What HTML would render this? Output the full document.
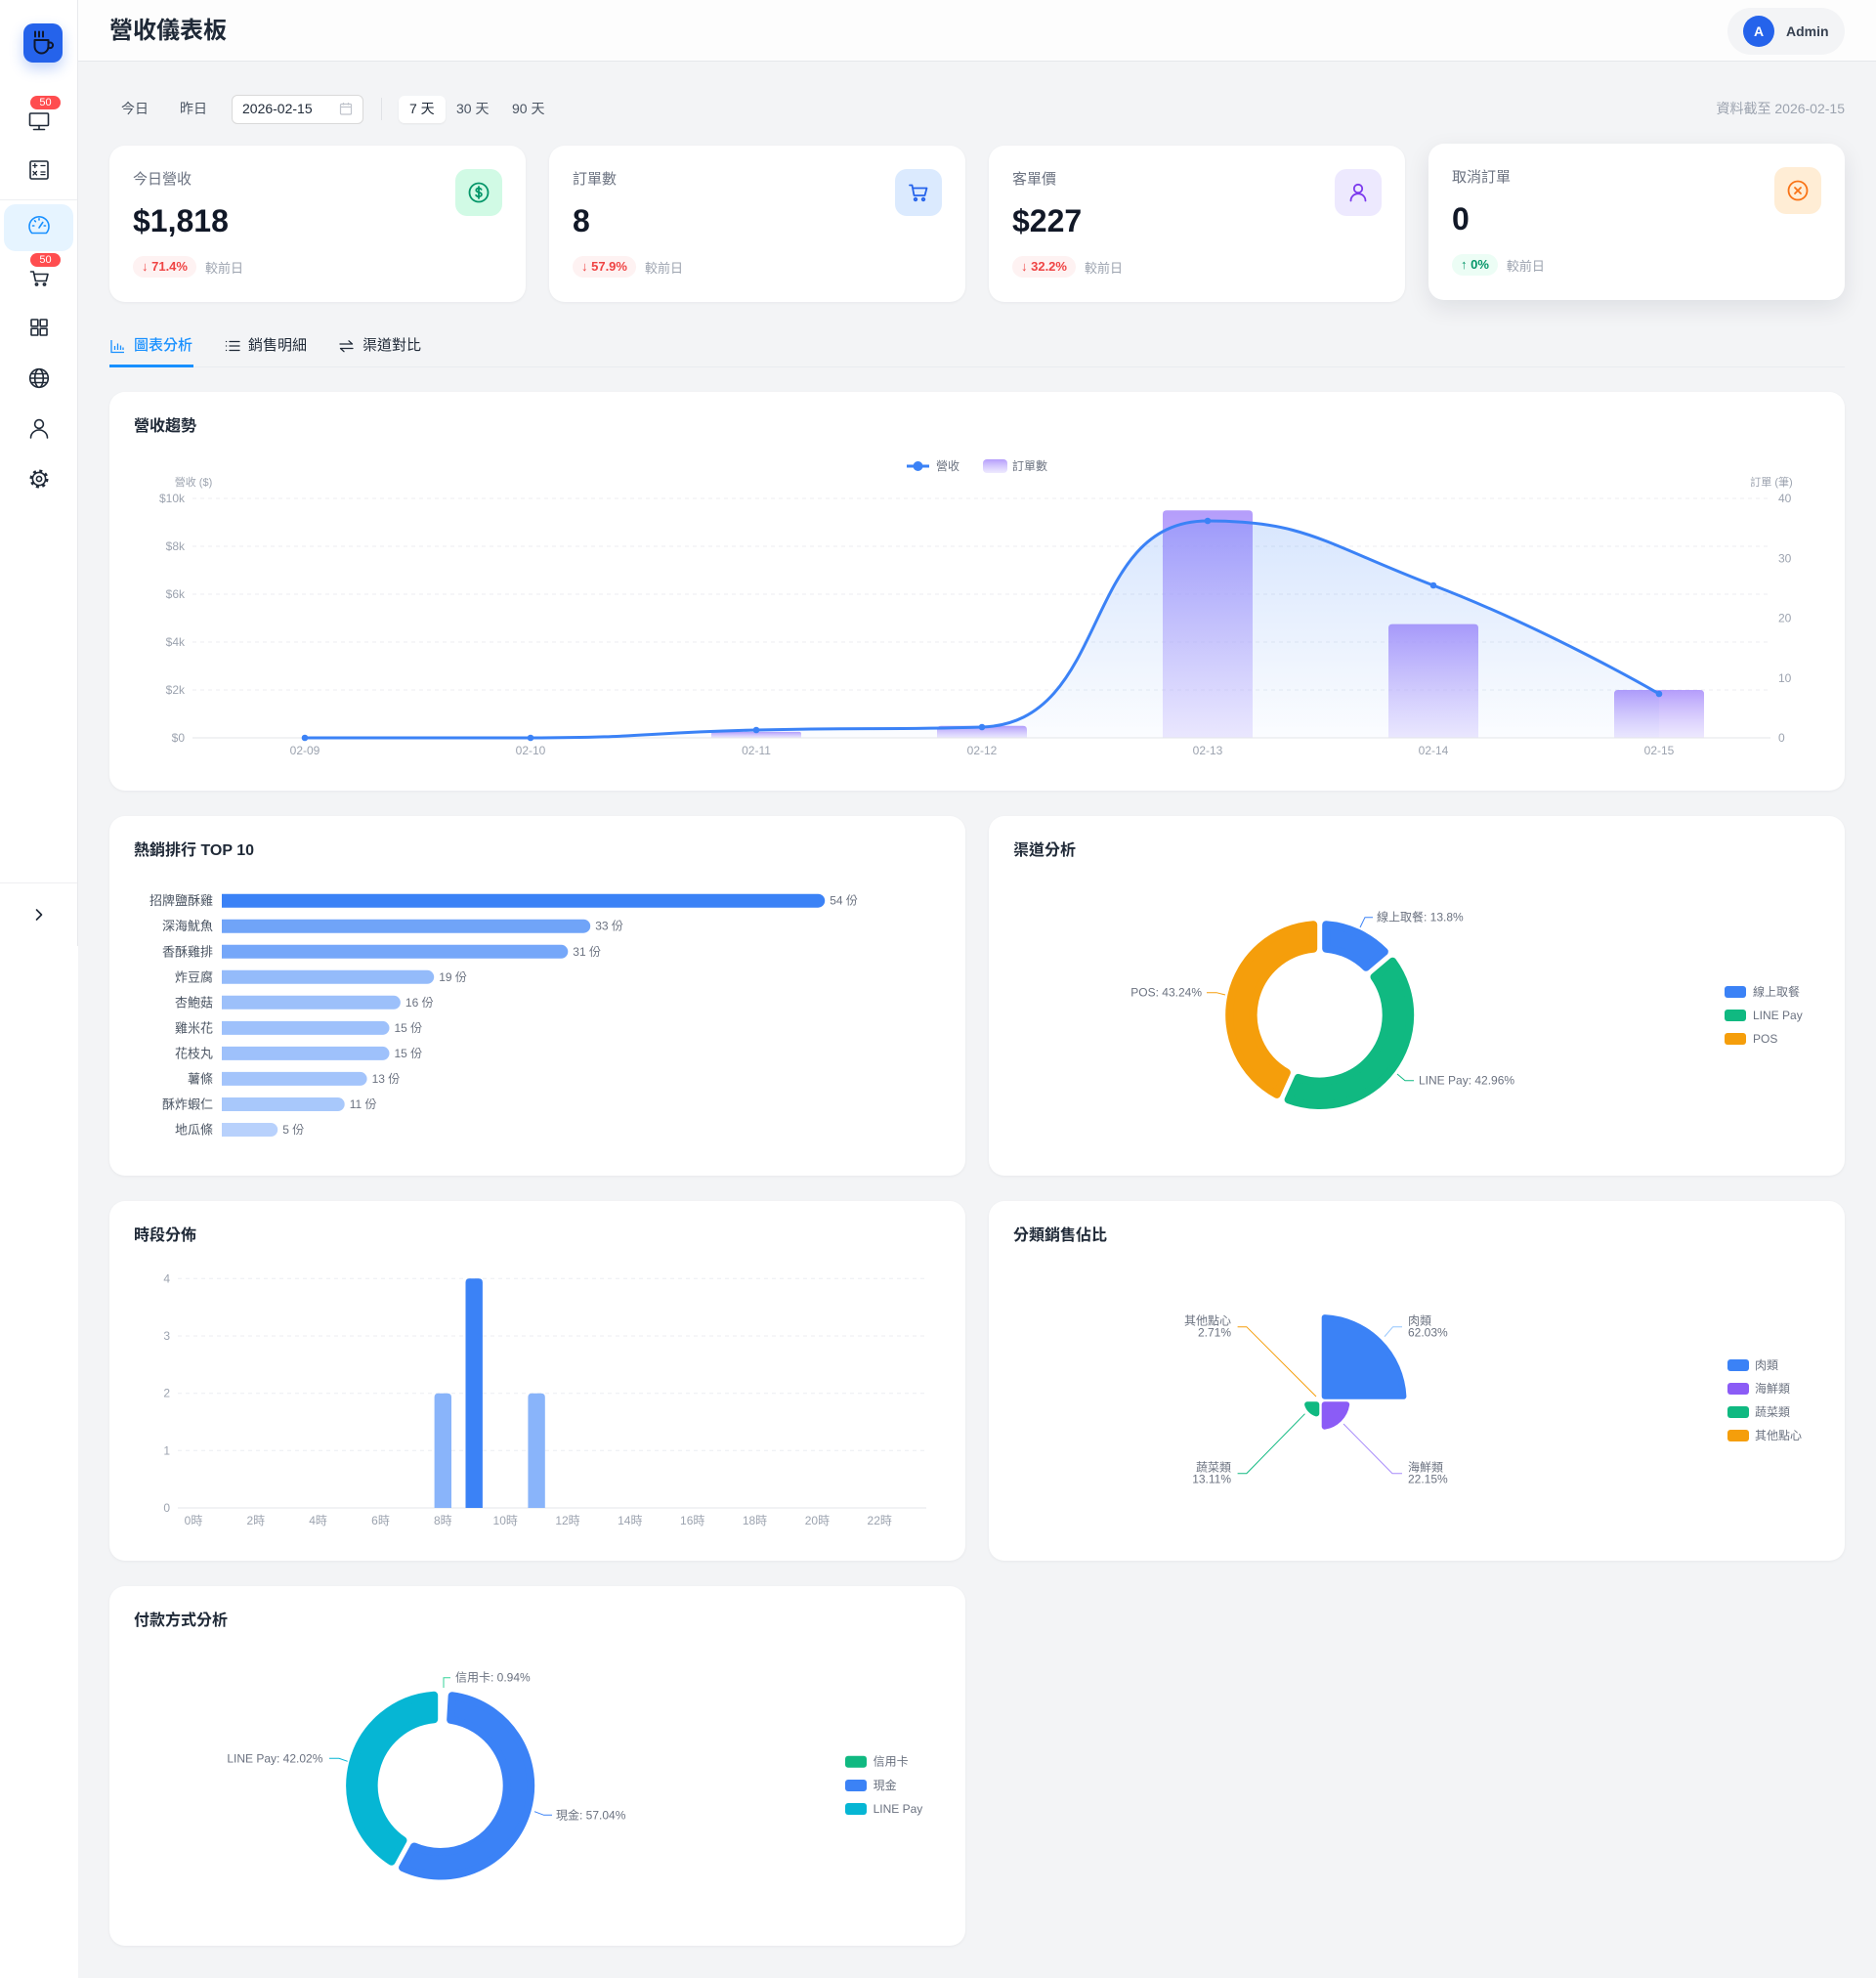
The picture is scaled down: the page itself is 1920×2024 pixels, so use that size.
<!DOCTYPE html>
<html><head><meta charset="utf-8">
<style>
*{box-sizing:border-box;margin:0;padding:0}
html,body{width:1920px;height:2024px;overflow:hidden}
body{position:relative;background:#f3f4f6;font-family:"Liberation Sans","Noto Sans CJK TC",sans-serif;color:#1f2937}
.a{position:absolute}
.t{position:absolute;white-space:nowrap}
.card{position:absolute;background:#fff;border-radius:16px;box-shadow:0 1px 3px rgba(16,24,40,.05)}
.lbl{position:absolute;left:24px;top:25px;font-size:15px;line-height:20px;color:#6b7280;white-space:nowrap}
.val{position:absolute;left:24px;top:57px;font-size:32px;line-height:40px;font-weight:700;color:#111827;white-space:nowrap}
.cmp{position:absolute;left:24px;top:113px;display:flex;align-items:center;white-space:nowrap}
.bdg{height:22px;line-height:22px;padding:0 9px;border-radius:11px;font-size:13px;font-weight:700}
.red{background:#fef2f2;color:#ef4444}
.grn{background:#ecfdf5;color:#059669}
.cmp span.s{margin-left:9px;font-size:13px;color:#9ca3af}
.ib{position:absolute;right:24px;top:24px;width:48px;height:48px;border-radius:12px;display:flex;align-items:center;justify-content:center}
.ctitle{position:absolute;left:25px;top:26px;font-size:16px;line-height:20px;font-weight:700;color:#1f2937;white-space:nowrap}
.flt{position:absolute;top:101px;font-size:14px;line-height:20px;color:#4b5563;white-space:nowrap}
.badge{position:absolute;left:31px;width:31px;height:14px;border-radius:7px;background:#ff4d4f;color:#fff;font-size:11px;line-height:14px;text-align:center}
svg text{font-family:"Liberation Sans","Noto Sans CJK TC",sans-serif}
</style></head>
<body>

<!-- Sidebar -->
<div class="a" style="left:0;top:0;width:80px;height:2024px;background:#fff"></div>
<div class="a" style="left:79px;top:0;width:1px;height:968px;background:#e8e9ec"></div>
<div class="a" style="left:0;top:204px;width:79px;height:1px;background:#eeeff1"></div>
<div class="a" style="left:0;top:903px;width:79px;height:1px;background:#eeeff1"></div>
<div class="a" style="left:4px;top:209px;width:71px;height:48px;border-radius:12px;background:#e6f4ff"></div>
<div class="a" style="left:24px;top:24px;width:40px;height:40px;border-radius:10px;background:#2563eb;box-shadow:0 6px 14px rgba(37,99,235,.28)"></div>

<svg class="a" style="left:0;top:0" width="80" height="968" fill="none" stroke="#1f2937" stroke-width="1.6" stroke-linecap="round" stroke-linejoin="round">
  <!-- logo cup -->
  <g stroke="#0f172a" stroke-width="2">
    <line x1="36" y1="32.5" x2="36" y2="37.5"/><line x1="40" y1="32.5" x2="40" y2="37.5"/><line x1="44" y1="32.5" x2="44" y2="37.5"/>
    <path d="M35.5 41h14v6.5a7 7 0 0 1-14 0z"/>
    <path d="M49.5 43.5h1.8a2.8 2.8 0 0 1 0 5.6h-2"/>
  </g>
  <!-- monitor -->
  <rect x="30.5" y="116" width="19" height="12.5" rx="1"/>
  <line x1="40" y1="128.5" x2="40" y2="132"/><line x1="34.5" y1="132.5" x2="45.5" y2="132.5"/>
  <!-- calculator -->
  <rect x="31" y="165" width="18" height="18" rx="1.5"/>
  <g stroke-width="1.3">
  <line x1="33.8" y1="169.5" x2="37.8" y2="169.5"/><line x1="35.8" y1="167.5" x2="35.8" y2="171.5"/>
  <line x1="42" y1="169.5" x2="46" y2="169.5"/>
  <line x1="34" y1="175.5" x2="37.5" y2="179"/><line x1="37.5" y1="175.5" x2="34" y2="179"/>
  <line x1="42" y1="176" x2="46" y2="176"/><line x1="42" y1="178.6" x2="46" y2="178.6"/>
  </g>
  <!-- gauge -->
  <g stroke="#1890ff">
    <path d="M32.6 238.5A10 10 0 1 1 47.4 238.5Z"/>
    <line x1="40" y1="233" x2="43.8" y2="227.5"/>
    <line x1="33.5" y1="231" x2="34.8" y2="231"/><line x1="35.5" y1="225.8" x2="36.4" y2="226.7"/><line x1="40" y1="223.8" x2="40" y2="225"/><line x1="45.2" y1="231" x2="46.5" y2="231"/>
  </g>
  <!-- cart -->
  <path d="M31.5 278h2.8l2.1 9.5h10.8l1.8-7H35"/>
  <circle cx="37.5" cy="291" r="1.1"/><circle cx="45.5" cy="291" r="1.1"/>
  <!-- grid -->
  <rect x="32" y="327" width="6.8" height="6.8" rx=".6"/><rect x="41.2" y="327" width="6.8" height="6.8" rx=".6"/>
  <rect x="32" y="336.2" width="6.8" height="6.8" rx=".6"/><rect x="41.2" y="336.2" width="6.8" height="6.8" rx=".6"/>
  <!-- globe -->
  <circle cx="40" cy="387" r="9.3"/><ellipse cx="40" cy="387" rx="4.3" ry="9.3"/>
  <line x1="30.7" y1="387" x2="49.3" y2="387"/><path d="M32 382.5h16M32 391.5h16"/>
  <!-- user -->
  <circle cx="40" cy="434" r="4.4"/><path d="M31.5 448a8.5 8 0 0 1 17 0"/>
  <!-- settings -->
  <circle cx="40" cy="490" r="8.2" stroke-width="2.6" stroke-dasharray="3 3.44" stroke-linecap="butt"/>
  <circle cx="40" cy="490" r="6.6"/><circle cx="40" cy="490" r="2.6"/>
  <!-- chevron -->
  <polyline points="37.5,931 42.5,936 37.5,941"/>
</svg>
<div class="badge" style="top:98px">50</div>
<div class="badge" style="top:259px">50</div>

<!-- Header -->
<div class="a" style="left:80px;top:0;width:1840px;height:63px;background:#fdfdfd;border-bottom:1px solid #e5e7eb"></div>
<div class="t" style="left:112px;top:16px;font-size:24px;line-height:32px;font-weight:700;color:#1f2937">營收儀表板</div>
<div class="a" style="left:1768px;top:8px;width:120px;height:48px;border-radius:24px;background:#f3f4f6"></div>
<div class="a" style="left:1784px;top:16px;width:32px;height:32px;border-radius:16px;background:#2563eb;color:#fff;font-size:14px;font-weight:700;line-height:32px;text-align:center">A</div>
<div class="t" style="left:1828px;top:22px;font-size:14px;line-height:20px;font-weight:700;color:#374151">Admin</div>

<!-- Filter row -->
<div class="flt" style="left:124px">今日</div>
<div class="flt" style="left:184px">昨日</div>
<div class="a" style="left:237px;top:97px;width:135px;height:30px;border:1px solid #d9d9d9;border-radius:6px;background:#fff"></div>
<div class="t" style="left:248px;top:101px;font-size:14px;line-height:20px;color:#1f2937">2026-02-15</div>
<svg class="a" style="left:347px;top:104px" width="14" height="15" fill="none" stroke="#c0c4cc" stroke-width="1.2"><rect x="1.5" y="2.5" width="11" height="10.5" rx="1"/><line x1="1.5" y1="5.5" x2="12.5" y2="5.5"/><line x1="4.5" y1="1" x2="4.5" y2="3.5"/><line x1="9.5" y1="1" x2="9.5" y2="3.5"/></svg>
<div class="a" style="left:390px;top:100px;width:1px;height:23px;background:#e0e2e6"></div>
<div class="a" style="left:408px;top:98px;width:48px;height:28px;border-radius:6px;background:#fff;box-shadow:0 1px 2px rgba(0,0,0,.06)"></div>
<div class="flt" style="left:419px;color:#1f2937">7 天</div>
<div class="flt" style="left:467px">30 天</div>
<div class="flt" style="left:524px">90 天</div>
<div class="flt" style="right:32px;color:#9ca3af">資料截至 2026-02-15</div>

<!-- Stat cards -->
<div class="card" style="left:112px;top:149px;width:426px;height:160px">
  <div class="lbl">今日營收</div><div class="val">$1,818</div>
  <div class="cmp"><span class="bdg red">↓ 71.4%</span><span class="s">較前日</span></div>
  <div class="ib" style="background:#d1fae5"><svg width="24" height="24" fill="none" stroke="#059669" stroke-width="1.8" stroke-linecap="round"><circle cx="12" cy="12" r="9.5"/><path d="M14.6 8.9c-.5-.8-1.5-1.3-2.6-1.3-1.5 0-2.7.8-2.7 2s1.1 1.7 2.7 2.1c1.7.4 2.9 1 2.9 2.3s-1.3 2.1-2.9 2.1c-1.2 0-2.3-.5-2.9-1.4M12 6v12"/></svg></div>
</div>
<div class="card" style="left:562px;top:149px;width:426px;height:160px">
  <div class="lbl">訂單數</div><div class="val">8</div>
  <div class="cmp"><span class="bdg red">↓ 57.9%</span><span class="s">較前日</span></div>
  <div class="ib" style="background:#dbeafe"><svg width="24" height="24" fill="none" stroke="#2563eb" stroke-width="1.8" stroke-linecap="round" stroke-linejoin="round"><path d="M3 4.5h2.5l2 10.5h11l2-7.5H6.6"/><circle cx="9" cy="19" r="1.3"/><circle cx="17" cy="19" r="1.3"/></svg></div>
</div>
<div class="card" style="left:1012px;top:149px;width:426px;height:160px">
  <div class="lbl">客單價</div><div class="val">$227</div>
  <div class="cmp"><span class="bdg red">↓ 32.2%</span><span class="s">較前日</span></div>
  <div class="ib" style="background:#ede9fe"><svg width="24" height="24" fill="none" stroke="#7c3aed" stroke-width="1.8" stroke-linecap="round"><circle cx="12" cy="8" r="4.2"/><path d="M4.5 20.5c0-4.2 3.4-7.3 7.5-7.3s7.5 3.1 7.5 7.3"/></svg></div>
</div>
<div class="card" style="left:1462px;top:147px;width:426px;height:160px;box-shadow:0 8px 24px rgba(16,24,40,.09)">
  <div class="lbl">取消訂單</div><div class="val">0</div>
  <div class="cmp"><span class="bdg grn">↑ 0%</span><span class="s">較前日</span></div>
  <div class="ib" style="background:#ffedd5"><svg width="24" height="24" fill="none" stroke="#f97316" stroke-width="1.8" stroke-linecap="round"><circle cx="12" cy="12" r="9.5"/><path d="M9 9l6 6M15 9l-6 6"/></svg></div>
</div>

<!-- Tabs -->
<div class="a" style="left:112px;top:375px;width:1776px;height:1px;background:#e9ebef"></div>
<div class="a" style="left:112px;top:373px;width:86px;height:3px;background:#1890ff"></div>
<svg class="a" style="left:113px;top:347px" width="15" height="15" fill="none" stroke="#1890ff" stroke-width="1.3"><path d="M1 1v12.5h13"/><path d="M4.5 11V7M7.5 11V4.5M10.5 11V6.5M13 11V8.5"/></svg>
<div class="t" style="left:137px;top:344px;font-size:15px;line-height:20px;color:#1890ff;font-weight:500">圖表分析</div>
<svg class="a" style="left:230px;top:347px" width="16" height="14" fill="none" stroke="#1f2937" stroke-width="1.3" stroke-linecap="round"><path d="M1.5 2.5h.1M1.5 7h.1M1.5 11.5h.1M5 2.5h10M5 7h10M5 11.5h10"/></svg>
<div class="t" style="left:254px;top:344px;font-size:15px;line-height:20px;color:#1f2937">銷售明細</div>
<svg class="a" style="left:347px;top:347px" width="15" height="14" fill="none" stroke="#1f2937" stroke-width="1.3" stroke-linecap="round" stroke-linejoin="round"><path d="M1 5h12.5L10 1.8M14 9.5H1.5L5 12.7"/></svg>
<div class="t" style="left:371px;top:344px;font-size:15px;line-height:20px;color:#1f2937">渠道對比</div>

<!-- Chart cards -->
<div class="card" style="left:112px;top:401px;width:1776px;height:408px"><div class="ctitle">營收趨勢</div></div>
<div class="card" style="left:112px;top:835px;width:876px;height:368px"><div class="ctitle">熱銷排行 TOP 10</div></div>
<div class="card" style="left:1012px;top:835px;width:876px;height:368px"><div class="ctitle">渠道分析</div></div>
<div class="card" style="left:112px;top:1229px;width:876px;height:368px"><div class="ctitle">時段分佈</div></div>
<div class="card" style="left:1012px;top:1229px;width:876px;height:368px"><div class="ctitle">分類銷售佔比</div></div>
<div class="card" style="left:112px;top:1623px;width:876px;height:368px"><div class="ctitle">付款方式分析</div></div>

<svg class="a" style="left:0;top:0" width="1920" height="2024">
<defs>
  <linearGradient id="barg" x1="0" y1="0" x2="0" y2="1">
    <stop offset="0" stop-color="#a78bfa" stop-opacity="0.85"/>
    <stop offset="1" stop-color="#c4b5fd" stop-opacity="0.3"/>
  </linearGradient>
  <linearGradient id="areag" gradientUnits="userSpaceOnUse" x1="0" y1="533" x2="0" y2="755">
    <stop offset="0" stop-color="#3b82f6" stop-opacity="0.2"/>
    <stop offset="1" stop-color="#3b82f6" stop-opacity="0.02"/>
  </linearGradient>
</defs>

<!-- ===== Trend chart ===== -->
<g stroke="#eceef2" stroke-dasharray="4 4" stroke-width="1">
  <line x1="197" y1="510" x2="1812" y2="510"/><line x1="197" y1="559" x2="1812" y2="559"/>
  <line x1="197" y1="608" x2="1812" y2="608"/><line x1="197" y1="657" x2="1812" y2="657"/>
  <line x1="197" y1="706" x2="1812" y2="706"/>
</g>
<g font-size="12" fill="#9ca3af" dominant-baseline="central">
  <text x="189" y="510" text-anchor="end">$10k</text><text x="189" y="559" text-anchor="end">$8k</text>
  <text x="189" y="608" text-anchor="end">$6k</text><text x="189" y="657" text-anchor="end">$4k</text>
  <text x="189" y="706" text-anchor="end">$2k</text><text x="189" y="755" text-anchor="end">$0</text>
  <text x="1820" y="510">40</text><text x="1820" y="571.3">30</text><text x="1820" y="632.5">20</text>
  <text x="1820" y="693.8">10</text><text x="1820" y="755">0</text>
  <text x="198" y="494" text-anchor="middle" font-size="11">營收 ($)</text>
  <text x="1813" y="494" text-anchor="middle" font-size="11">訂單 (筆)</text>
  <text x="312" y="768" text-anchor="middle">02-09</text><text x="543" y="768" text-anchor="middle">02-10</text>
  <text x="774" y="768" text-anchor="middle">02-11</text><text x="1005" y="768" text-anchor="middle">02-12</text>
  <text x="1236" y="768" text-anchor="middle">02-13</text><text x="1467" y="768" text-anchor="middle">02-14</text>
  <text x="1698" y="768" text-anchor="middle">02-15</text>
</g>
<g fill="url(#barg)">
  <path d="M728 755V751q0-2.1 2.1-2.1h87.8q2.1 0 2.1 2.1V755z"/>
  <path d="M959 755V746.75q0-4 4-4h84q4 0 4 4V755z"/>
  <path d="M1190 755V526.25q0-4 4-4h84q4 0 4 4V755z"/>
  <path d="M1421 755V642.6q0-4 4-4h84q4 0 4 4V755z"/>
  <path d="M1652 755V710q0-4 4-4h84q4 0 4 4V755z"/>
</g>
<path d="M312 755C312 755 427.5 755 543 755C658.5 755 658.5 749.75 774 747C889.5 744.25 906.9 747 1005 744C1137.9 739.9 1105.3 533 1236 533C1336.3 533 1355.2 556.2 1467 599C1586.2 644.7 1698 710 1698 710L1698 755Z" fill="url(#areag)"/>
<line x1="197" y1="755" x2="1812" y2="755" stroke="#e3e5e9" stroke-width="1"/>
<path d="M312 755C312 755 427.5 755 543 755C658.5 755 658.5 749.75 774 747C889.5 744.25 906.9 747 1005 744C1137.9 739.9 1105.3 533 1236 533C1336.3 533 1355.2 556.2 1467 599C1586.2 644.7 1698 710 1698 710" fill="none" stroke="#3b82f6" stroke-width="3" stroke-linejoin="round"/>
<g fill="#3b82f6">
  <circle cx="312" cy="755" r="3.3"/><circle cx="543" cy="755" r="3.3"/><circle cx="774" cy="747" r="3.3"/>
  <circle cx="1005" cy="744" r="3.3"/><circle cx="1236" cy="533" r="3.3"/><circle cx="1467" cy="599" r="3.3"/>
  <circle cx="1698" cy="710" r="3.3"/>
</g>
<!-- legend -->
<line x1="928" y1="477" x2="951" y2="477" stroke="#3b82f6" stroke-width="3"/>
<circle cx="939.5" cy="477" r="5" fill="#3b82f6"/>
<text x="958" y="477" font-size="12" fill="#6b7280" dominant-baseline="central">營收</text>
<rect x="1006" y="470" width="25" height="14" rx="4" fill="url(#barg)"/>
<text x="1036" y="477" font-size="12" fill="#6b7280" dominant-baseline="central">訂單數</text>

<!-- ===== Top 10 ===== -->
<g font-size="13" fill="#4b5563" text-anchor="end" dominant-baseline="central">
  <text x="218" y="921.7">招牌鹽酥雞</text><text x="218" y="947.7">深海魷魚</text><text x="218" y="973.8">香酥雞排</text>
  <text x="218" y="999.8">炸豆腐</text><text x="218" y="1025.8">杏鮑菇</text><text x="218" y="1051.9">雞米花</text>
  <text x="218" y="1077.9">花枝丸</text><text x="218" y="1103.9">薯條</text><text x="218" y="1130">酥炸蝦仁</text>
  <text x="218" y="1156">地瓜條</text>
</g>
<path d="M227 914.7h610.2a7 7 0 0 1 0 14H227z" fill="#3b82f6"/>
<path d="M227 940.7h370.2a7 7 0 0 1 0 14H227z" fill="#3b82f6" fill-opacity="0.728"/>
<path d="M227 966.8h347.3a7 7 0 0 1 0 14H227z" fill="#3b82f6" fill-opacity="0.702"/>
<path d="M227 992.8h210.2a7 7 0 0 1 0 14H227z" fill="#3b82f6" fill-opacity="0.546"/>
<path d="M227 1018.8h175.9a7 7 0 0 1 0 14H227z" fill="#3b82f6" fill-opacity="0.507"/>
<path d="M227 1044.9h164.5a7 7 0 0 1 0 14H227z" fill="#3b82f6" fill-opacity="0.494"/>
<path d="M227 1070.9h164.5a7 7 0 0 1 0 14H227z" fill="#3b82f6" fill-opacity="0.494"/>
<path d="M227 1096.9h141.6a7 7 0 0 1 0 14H227z" fill="#3b82f6" fill-opacity="0.469"/>
<path d="M227 1123h118.7a7 7 0 0 1 0 14H227z" fill="#3b82f6" fill-opacity="0.443"/>
<path d="M227 1149h50.2a7 7 0 0 1 0 14H227z" fill="#3b82f6" fill-opacity="0.365"/>
<g font-size="12" fill="#6b7280" dominant-baseline="central">
  <text x="849.2" y="921.7">54 份</text><text x="609.2" y="947.7">33 份</text><text x="586.3" y="973.8">31 份</text>
  <text x="449.2" y="999.8">19 份</text><text x="414.9" y="1025.8">16 份</text><text x="403.5" y="1051.9">15 份</text>
  <text x="403.5" y="1077.9">15 份</text><text x="380.6" y="1103.9">13 份</text><text x="357.7" y="1130">11 份</text>
  <text x="289.2" y="1156">5 份</text>
</g>

<!-- ===== Channel donut ===== -->
<g stroke-width="8" stroke-linejoin="round">
  <path d="M1357.2 946.23A92.5 92.5 0 0 1 1416.85 973.85L1398.11 989.75A68 68 0 0 0 1357.2 970.81Z" fill="#3b82f6" stroke="#3b82f6"/>
  <path d="M1425.25 983.75A92.5 92.5 0 0 1 1318.6 1125.25L1328.73 1102.85A68 68 0 0 0 1406.51 999.66Z" fill="#10b981" stroke="#10b981"/>
  <path d="M1306.75 1119.89A92.5 92.5 0 0 1 1344.2 946.23L1344.2 970.81A68 68 0 0 0 1316.88 1097.5Z" fill="#f59e0b" stroke="#f59e0b"/>
</g>
<g fill="none" stroke-width="1">
  <polyline points="1392,949 1397,938.7 1405,938.7" stroke="#3b82f6"/>
  <polyline points="1254,1018 1245,1015.7 1235,1015.7" stroke="#f59e0b"/>
  <polyline points="1430,1099 1438,1105.7 1447,1105.7" stroke="#10b981"/>
</g>
<g font-size="12" fill="#6b7280" dominant-baseline="central">
  <text x="1409" y="938.7">線上取餐: 13.8%</text>
  <text x="1230" y="1015.7" text-anchor="end">POS: 43.24%</text>
  <text x="1452" y="1105.7">LINE Pay: 42.96%</text>
  <text x="1794" y="1015">線上取餐</text><text x="1794" y="1039">LINE Pay</text><text x="1794" y="1063">POS</text>
</g>
<rect x="1765" y="1009" width="22" height="12" rx="3" fill="#3b82f6"/>
<rect x="1765" y="1033" width="22" height="12" rx="3" fill="#10b981"/>
<rect x="1765" y="1057" width="22" height="12" rx="3" fill="#f59e0b"/>

<!-- ===== Hours ===== -->
<g stroke="#eceef2" stroke-dasharray="4 4">
  <line x1="182" y1="1308.3" x2="948" y2="1308.3"/><line x1="182" y1="1367" x2="948" y2="1367"/>
  <line x1="182" y1="1425.7" x2="948" y2="1425.7"/><line x1="182" y1="1484.3" x2="948" y2="1484.3"/>
</g>
<line x1="182" y1="1543" x2="948" y2="1543" stroke="#e3e5e9"/>
<g font-size="12" fill="#9ca3af" dominant-baseline="central">
  <g text-anchor="end"><text x="174" y="1308.3">4</text><text x="174" y="1367">3</text><text x="174" y="1425.7">2</text><text x="174" y="1484.3">1</text><text x="174" y="1543">0</text></g>
  <g text-anchor="middle">
    <text x="198" y="1556">0時</text><text x="261.8" y="1556">2時</text><text x="325.6" y="1556">4時</text>
    <text x="389.5" y="1556">6時</text><text x="453.3" y="1556">8時</text><text x="517.2" y="1556">10時</text>
    <text x="581" y="1556">12時</text><text x="644.8" y="1556">14時</text><text x="708.7" y="1556">16時</text>
    <text x="772.5" y="1556">18時</text><text x="836.4" y="1556">20時</text><text x="900.2" y="1556">22時</text>
  </g>
</g>
<path d="M444.6 1543V1429.7q0-4 4-4h9.4q4 0 4 4V1543z" fill="#89b4fa"/>
<path d="M476.5 1543V1312.3q0-4 4-4h9.4q4 0 4 4V1543z" fill="#3b82f6"/>
<path d="M540.4 1543V1429.7q0-4 4-4h9.4q4 0 4 4V1543z" fill="#89b4fa"/>

<!-- ===== Category rose ===== -->
<g stroke-width="6" stroke-linejoin="round">
  <path d="M1355.7 1428.8L1355.7 1348.1A85 85 0 0 1 1436.4 1428.8Z" fill="#3b82f6" stroke="#3b82f6"/>
  <path d="M1355.7 1437.2L1378.2 1437.2A27 27 0 0 1 1355.7 1459.7Z" fill="#8b5cf6" stroke="#8b5cf6"/>
  <path d="M1347.3 1437.2L1347.3 1446.4A14 14 0 0 1 1338.1 1437.2Z" fill="#10b981" stroke="#10b981"/>
</g>
<g fill="none" stroke-width="1">
  <polyline points="1417,1367.7 1425.6,1357.7 1435,1357.7" stroke="#93c5fd"/>
  <polyline points="1347,1429 1275.8,1357.7 1266.6,1357.7" stroke="#f59e0b"/>
  <polyline points="1375,1457 1425,1507.7 1435,1507.7" stroke="#a78bfa"/>
  <polyline points="1335.5,1446.7 1275.8,1507.7 1266.6,1507.7" stroke="#10b981"/>
</g>
<g font-size="12" fill="#6b7280" dominant-baseline="central">
  <text x="1441" y="1351.7">肉類</text><text x="1441" y="1363.3">62.03%</text>
  <text x="1441" y="1501.7">海鮮類</text><text x="1441" y="1513.3">22.15%</text>
  <g text-anchor="end">
    <text x="1260" y="1351.7">其他點心</text><text x="1260" y="1363.3">2.71%</text>
    <text x="1260" y="1501.7">蔬菜類</text><text x="1260" y="1513.3">13.11%</text>
  </g>
  <text x="1796" y="1397">肉類</text><text x="1796" y="1421">海鮮類</text><text x="1796" y="1445">蔬菜類</text><text x="1796" y="1469">其他點心</text>
</g>
<rect x="1768" y="1391" width="22" height="12" rx="3" fill="#3b82f6"/>
<rect x="1768" y="1415" width="22" height="12" rx="3" fill="#8b5cf6"/>
<rect x="1768" y="1439" width="22" height="12" rx="3" fill="#10b981"/>
<rect x="1768" y="1463" width="22" height="12" rx="3" fill="#f59e0b"/>

<!-- ===== Payment donut ===== -->
<g stroke-width="8" stroke-linejoin="round">
  <path d="M462.64 1735.27A92.5 92.5 0 1 1 412.05 1911.04L423.86 1889.48A68 68 0 1 0 461.18 1759.81Z" fill="#3b82f6" stroke="#3b82f6"/>
  <path d="M400.65 1904.79A92.5 92.5 0 0 1 444.2 1734.73L444.2 1759.31A68 68 0 0 0 412.46 1883.23Z" fill="#06b6d4" stroke="#06b6d4"/>
</g>
<g fill="none" stroke-width="1">
  <polyline points="454,1727 454,1716.7 461,1716.7" stroke="#34d399"/>
  <polyline points="355.7,1802.3 347,1799.3 337,1799.3" stroke="#06b6d4"/>
  <polyline points="547,1853.7 556.6,1857.3 565,1857.3" stroke="#3b82f6"/>
</g>
<g font-size="12" fill="#6b7280" dominant-baseline="central">
  <text x="466" y="1716.7">信用卡: 0.94%</text>
  <text x="330.4" y="1799.3" text-anchor="end">LINE Pay: 42.02%</text>
  <text x="569" y="1857.3">現金: 57.04%</text>
  <text x="893.6" y="1802.7">信用卡</text><text x="893.6" y="1827">現金</text><text x="893.6" y="1851">LINE Pay</text>
</g>
<rect x="865" y="1796.7" width="22" height="12" rx="3" fill="#10b981"/>
<rect x="865" y="1821" width="22" height="12" rx="3" fill="#3b82f6"/>
<rect x="865" y="1845" width="22" height="12" rx="3" fill="#06b6d4"/>
</svg>

</body></html>
